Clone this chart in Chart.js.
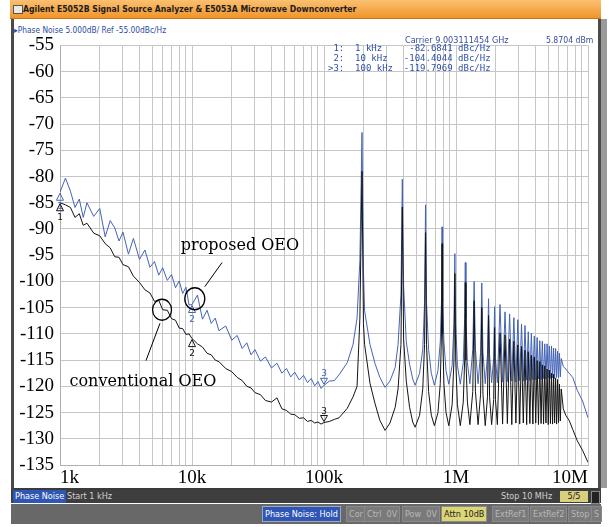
<!DOCTYPE html>
<html>
<head>
<meta charset="utf-8">
<script src="https://cdn.jsdelivr.net/npm/chart.js@4.4.0/dist/chart.umd.min.js"></script>
<style>
  body { margin: 0; width: 609px; height: 527px; background: #fff; position: relative; overflow: hidden; font-family: "DejaVu Sans Condensed", "DejaVu Sans", sans-serif; }
  .abs { position: absolute; }
  #titlebar { left: 10px; top: 0; width: 591px; height: 18px; background: linear-gradient(#fbc071, #f0952a); border-bottom: 1px solid #c8781a;
              font: bold 8.6px "DejaVu Sans Condensed", "DejaVu Sans", sans-serif; line-height: 18px; color: #1c1c1c; }
  #titlebar span { position: absolute; left: 13px; }
  #icon { left: 3px; top: 5px; width: 8px; height: 7px; background: #e8e8e8; border: 1px solid #555; }
  #frame { left: 11px; top: 19px; width: 584px; height: 469px; background: #fff; border-left: 3px solid #4a4a4a; border-right: 3px solid #4a4a4a; border-bottom: 2px solid #3a3a3a; }
  #scroll { left: 601px; top: 19px; width: 6px; height: 469px; background: #9a9a9a; }
  #hdr { left: 14px; top: 25px; font-size: 8.3px; color: #2c4aa0; font-family: "DejaVu Sans Condensed", "DejaVu Sans", sans-serif; }
  #carrier { left: 405px; top: 35px; font-size: 9px; color: #3a4c9a; }
  #dbm { left: 546px; top: 35px; font-size: 8.6px; color: #3a4c9a; }
  #mk { left: 328px; top: 43px; font: 9px/10px "DejaVu Sans Mono", monospace; color: #3050a8; white-space: pre; margin: 0; }
  #wrap { left: 14px; top: 28px; width: 584px; height: 458px; }
  #status1 { left: 11px; top: 490px; width: 590px; height: 13px; background: #3e3e3e; font-size: 9px; line-height: 13px; color: #d0d0d0; }
  #status2 { left: 11px; top: 504px; width: 590px; height: 20px; background: #686868; font-size: 9px; line-height: 14px; }
  .box { position: absolute; top: 2px; height: 14px; padding: 0 2px; border: 1px solid #8a8a8a; color: #b8b8b8; background: #7a7a7a; }
</style>
</head>
<body>
<div id="titlebar" class="abs"><div id="icon" class="abs"></div><span>Agilent E5052B Signal Source Analyzer &amp; E5053A Microwave Downconverter</span></div>
<div id="frame" class="abs"></div>
<div id="scroll" class="abs"></div>
<div id="hdr" class="abs">&#9656;Phase Noise 5.000dB/ Ref -55.00dBc/Hz</div>
<div id="wrap" class="abs"><canvas id="pn" width="584" height="458"></canvas></div>
<div id="carrier" class="abs">Carrier 9.003111454 GHz</div>
<div id="dbm" class="abs">5.8704 dBm</div>
<pre id="mk" class="abs"> 1:  1 kHz     -82.6841 dBc/Hz
 2:  10 kHz   -104.4044 dBc/Hz
>3:  100 kHz  -119.7969 dBc/Hz</pre>
<div id="status1" class="abs">
  <span class="abs" style="left:2px;top:0;height:13px;padding:0 2px;background:#2f55b5;color:#fff">Phase Noise</span>
  <span class="abs" style="left:56px;top:0">Start 1 kHz</span>
  <span class="abs" style="left:490px;top:0">Stop 10 MHz</span>
  <span class="abs" style="left:549px;top:1px;width:28px;height:11px;line-height:11px;text-align:center;background:#d8d07c;color:#222">5/5</span>
  <span class="abs" style="left:580px;top:1px;width:7px;height:11px;background:#222;border:1px solid #888"></span>
</div>
<div id="status2" class="abs">
  <span class="box" style="left:251px;background:#2f55b5;color:#fff;border-color:#9ab">Phase Noise: Hold</span>
  <span class="box" style="left:335px">Cor</span>
  <span class="box" style="left:353px">Ctrl&nbsp;&nbsp;0V</span>
  <span class="box" style="left:391px">Pow&nbsp;&nbsp;0V</span>
  <span class="box" style="left:430px;background:#dcd676;color:#222">Attn 10dB</span>
  <span class="box" style="left:481px">ExtRef1</span>
  <span class="box" style="left:519px">ExtRef2</span>
  <span class="box" style="left:557px">Stop</span>
  <span class="box" style="left:580px">S</span>
</div>

<script>
// offset frequency, kHz
const freqKHz = [
  1, 1.1, 1.2, 1.3, 1.4, 1.5, 1.6, 1.8, 2, 2.2, 2.4, 2.6, 2.8, 3, 3.3, 3.6, 4, 4.4, 4.8, 5.2, 5.6, 6, 6.5, 7, 7.5, 8, 8.5, 9, 9.5,
  10, 11, 12, 13, 14, 15, 16, 18, 20, 22, 24, 26, 28, 30, 33, 36, 40, 44, 48, 52, 56, 60, 65, 70, 75, 80, 85, 90, 95,
  100, 110, 120, 130, 150, 166, 178, 187, 194, 199, 203, 223, 243, 265, 290,
  316, 346, 364, 383, 392, 401, 420, 445, 470, 490,
  530, 560, 578, 588, 598, 620, 650, 686,
  730, 760, 776, 784, 792, 810, 840, 882,
  935, 965, 980, 995, 1025, 1078,
  1135, 1163, 1176, 1189, 1220, 1274,
  1340, 1372, 1404, 1470,
  1536, 1568, 1600, 1666,
  1732, 1764, 1796, 1862,
  1930, 1960, 1990, 2058,
  2156, 2254, 2352, 2450, 2548, 2646, 2744, 2842, 2940, 3038,
  3136, 3234, 3332, 3430, 3528, 3626, 3724, 3822, 3920, 4018,
  4116, 4214, 4312, 4410, 4508, 4606, 4704, 4802, 4900, 4998,
  5096, 5194, 5292, 5390, 5488, 5586, 5684, 5782, 5880, 5978,
  6076, 6174, 6272, 6500, 6780, 7200, 7660, 8300, 9100, 10000
];

// dBc/Hz, blue trace
const proposedOEO = [
  -83.0, -80.3, -82.8, -85.9, -84.3, -87.8, -85.0, -87.6, -86.1, -91.5, -88.4, -89.8, -92.3, -90.6, -94.8, -91.8, -95.8, -94.0, -97.3, -96.2, -98.8, -97.4, -99.8, -98.7, -101.2, -99.9, -102.3, -101.1, -104.5,
  -104.4, -102.6, -107.2, -105.5, -108.0, -107.0, -109.4, -108.5, -111.2, -110.3, -112.8, -111.7, -114.0, -113.0, -115.2, -114.4, -116.5, -115.6, -117.5, -116.6, -118.2, -117.3, -118.8, -117.9, -119.3, -118.5, -119.9, -119.1, -120.4,
  -119.8, -119.0, -118.9, -117.8, -115.5, -112.0, -107.0, -96.0, -71.6, -98.0, -105.6, -112.0, -115.6, -118.3, -120.2,
  -119.0, -116.4, -112.0, -102.4, -80.5, -101.0, -111.5, -115.8, -118.6, -119.8,
  -117.5, -113.0, -104.0, -85.4, -104.0, -113.0, -117.5, -119.8,
  -117.0, -111.5, -104.0, -89.6, -104.0, -111.5, -117.0, -119.6,
  -116.0, -108.0, -94.7, -108.0, -116.0, -119.6,
  -115.5, -107.0, -96.4, -107.0, -115.5, -119.5,
  -113.0, -100.0, -113.0, -119.5,
  -113.5, -100.3, -113.5, -119.5,
  -114.0, -103.3, -114.0, -119.3,
  -114.5, -104.8, -114.5, -119.3,
  -104.4, -119.2, -105.8, -119.1, -106.2, -119.0, -106.9, -119.2, -107.3, -118.9,
  -108.1, -119.0, -108.4, -118.8, -109.6, -118.9, -109.9, -118.7, -110.4, -118.8,
  -110.7, -118.6, -111.3, -118.7, -111.4, -118.5, -111.9, -118.6, -111.9, -118.4,
  -112.3, -118.5, -112.3, -118.4, -112.7, -118.5, -112.8, -118.3, -113.3, -118.4,
  -113.7, -118.2, -114.7, -116.2, -116.7, -117.5, -118.3, -120.8, -122.8, -126.0
];

// dBc/Hz, black trace
const conventionalOEO = [
  -85.0, -85.4, -85.9, -87.8, -87.1, -89.3, -88.9, -90.8, -91.3, -92.8, -93.6, -95.3, -95.4, -96.8, -97.2, -99.0, -100.2, -101.6, -102.2, -103.8, -103.6, -105.4, -105.5, -107.1, -107.4, -108.9, -109.0, -110.1, -110.0,
  -110.9, -111.9, -112.5, -113.7, -114.0, -115.0, -115.3, -116.6, -117.2, -118.3, -118.9, -120.0, -120.3, -121.2, -121.6, -122.7, -123.0, -122.2, -124.3, -124.6, -125.3, -125.4, -126.1, -126.0, -126.7, -126.5, -127.0, -126.8, -127.2,
  -126.9, -126.7, -126.3, -126.0, -124.2, -122.0, -120.0, -107.0, -79.0, -108.0, -112.0, -119.4, -123.2, -126.5, -128.4,
  -127.0, -124.0, -120.5, -112.0, -85.8, -111.0, -119.0, -124.0, -126.8, -127.8,
  -125.5, -120.5, -112.0, -90.7, -112.0, -121.0, -125.5, -127.5,
  -125.0, -119.5, -110.0, -92.8, -110.0, -119.5, -125.0, -127.5,
  -123.5, -115.0, -98.5, -115.0, -123.5, -127.5,
  -123.0, -115.0, -100.2, -115.0, -123.0, -127.3,
  -121.0, -103.7, -121.0, -127.3,
  -121.5, -105.0, -121.5, -127.5,
  -122.0, -106.5, -122.0, -127.3,
  -122.5, -108.8, -122.5, -127.3,
  -109.8, -127.2, -110.2, -127.1, -111.0, -127.3, -111.4, -127.0, -112.1, -127.2,
  -112.4, -127.0, -113.1, -127.3, -113.4, -127.1, -114.1, -127.2, -114.4, -127.0,
  -115.1, -127.3, -115.3, -127.1, -115.9, -127.2, -116.1, -127.0, -116.7, -127.3,
  -116.9, -127.1, -117.5, -127.2, -117.7, -127.0, -118.4, -127.2, -118.7, -126.9,
  -119.6, -126.6, -120.5, -124.3, -125.5, -126.5, -128.2, -130.4, -132.2, -134.5
];

// x grid lines (kHz) and labelled decades
const gridFreqs = [
  1, 2, 3, 4, 5, 6, 7, 8, 9,
  10, 20, 30, 40, 50, 60, 70, 80, 90,
  100, 200, 300, 400, 500, 600, 700, 800, 900,
  1000, 2000, 3000, 4000, 5000, 6000, 7000, 8000, 9000,
  10000
];
const decadeValues = [1, 10, 100, 1000, 10000];
const decadeLabels = ['1k', '10k', '100k', '1M', '10M'];

// marker frequencies (kHz)
const markerFreqs = [1, 10, 100];

const BLUE = '#4363b6';
const BLACK = '#141414';
const SERIF = '"Liberation Serif", "DejaVu Serif", serif';

const toPoints = vals => freqKHz.map((f, i) => ({ x: f, y: vals[i] }));

const overlay = {
  id: 'overlay',
  afterDatasetsDraw(chart) {
    const { ctx, scales: { x, y } } = chart;
    ctx.save();

    // markers on both traces
    [[proposedOEO, BLUE], [conventionalOEO, BLACK]].forEach(([vals, col]) => {
      markerFreqs.forEach((f, m) => {
        const px = x.getPixelForValue(f);
        const py = y.getPixelForValue(vals[freqKHz.indexOf(f)]);
        ctx.strokeStyle = col;
        ctx.fillStyle = col;
        ctx.lineWidth = 1;
        ctx.font = '9px "DejaVu Sans"';
        ctx.textAlign = 'center';
        ctx.beginPath();
        if (m < 2) {
          ctx.moveTo(px, py + 1); ctx.lineTo(px - 3.5, py + 8); ctx.lineTo(px + 3.5, py + 8); ctx.closePath();
          ctx.stroke();
          ctx.fillText(String(m + 1), px, py + 17);
        } else {
          ctx.moveTo(px, py - 1); ctx.lineTo(px - 3.5, py - 7); ctx.lineTo(px + 3.5, py - 7); ctx.closePath();
          ctx.stroke();
          ctx.fillText(String(m + 1), px, py - 9);
        }
      });
    });

    // circles, leader lines and labels
    ctx.strokeStyle = '#000';
    ctx.fillStyle = '#000';
    ctx.lineWidth = 1.3;
    ctx.beginPath();
    ctx.ellipse(x.getPixelForValue(10.5), y.getPixelForValue(-103.3), 10, 11, 0, 0, Math.PI * 2);
    ctx.stroke();
    ctx.beginPath();
    ctx.ellipse(x.getPixelForValue(5.93), y.getPixelForValue(-105.4), 9.5, 10.5, 0, 0, Math.PI * 2);
    ctx.stroke();
    ctx.lineWidth = 1;
    ctx.beginPath();
    ctx.moveTo(x.getPixelForValue(16.9), y.getPixelForValue(-96.4));
    ctx.lineTo(x.getPixelForValue(12.5), y.getPixelForValue(-101));
    ctx.moveTo(x.getPixelForValue(5.72), y.getPixelForValue(-108));
    ctx.lineTo(x.getPixelForValue(4.48), y.getPixelForValue(-115.1));
    ctx.stroke();

    ctx.font = '16px "DejaVu Serif"';
    ctx.textAlign = 'center';
    ctx.textBaseline = 'middle';
    ctx.fillText('proposed OEO', x.getPixelForValue(23.1), y.getPixelForValue(-93.2));
    ctx.fillText('conventional OEO', x.getPixelForValue(4.25), y.getPixelForValue(-119.1));
    ctx.restore();
  }
};

new Chart(document.getElementById('pn'), {
  type: 'line',
  data: {
    datasets: [
      { label: 'conventional OEO', data: toPoints(conventionalOEO), borderColor: BLACK, borderWidth: 1, pointRadius: 0, tension: 0 },
      { label: 'proposed OEO', data: toPoints(proposedOEO), borderColor: BLUE, borderWidth: 1, pointRadius: 0, tension: 0 }
    ]
  },
  options: {
    responsive: false,
    animation: false,
    layout: { padding: { right: 10 } },
    plugins: { legend: { display: false }, tooltip: { enabled: false } },
    scales: {
      x: {
        type: 'logarithmic',
        min: 1,
        max: 10000,
        afterBuildTicks: s => { s.ticks = gridFreqs.map(v => ({ value: v })); },
        afterFit: s => { s.height = 21; },
        grid: { color: '#c6c6c6', drawTicks: false },
        border: { color: '#b0b0b0' },
        ticks: {
          autoSkip: false,
          maxRotation: 0,
          align: 'inner',
          padding: 2,
          color: '#000',
          font: { family: SERIF, size: 19 },
          callback: v => { const i = decadeValues.indexOf(v); return i < 0 ? '' : decadeLabels[i]; }
        }
      },
      y: {
        min: -135,
        max: -55,
        afterFit: s => { s.width = 46; },
        grid: { color: '#c6c6c6', drawTicks: false },
        border: { color: '#b0b0b0' },
        ticks: {
          stepSize: 5,
          padding: 6,
          color: '#000',
          font: { family: SERIF, size: 19 },
          callback: v => String(v)
        }
      }
    }
  },
  plugins: [overlay]
});
</script>
</body>
</html>
